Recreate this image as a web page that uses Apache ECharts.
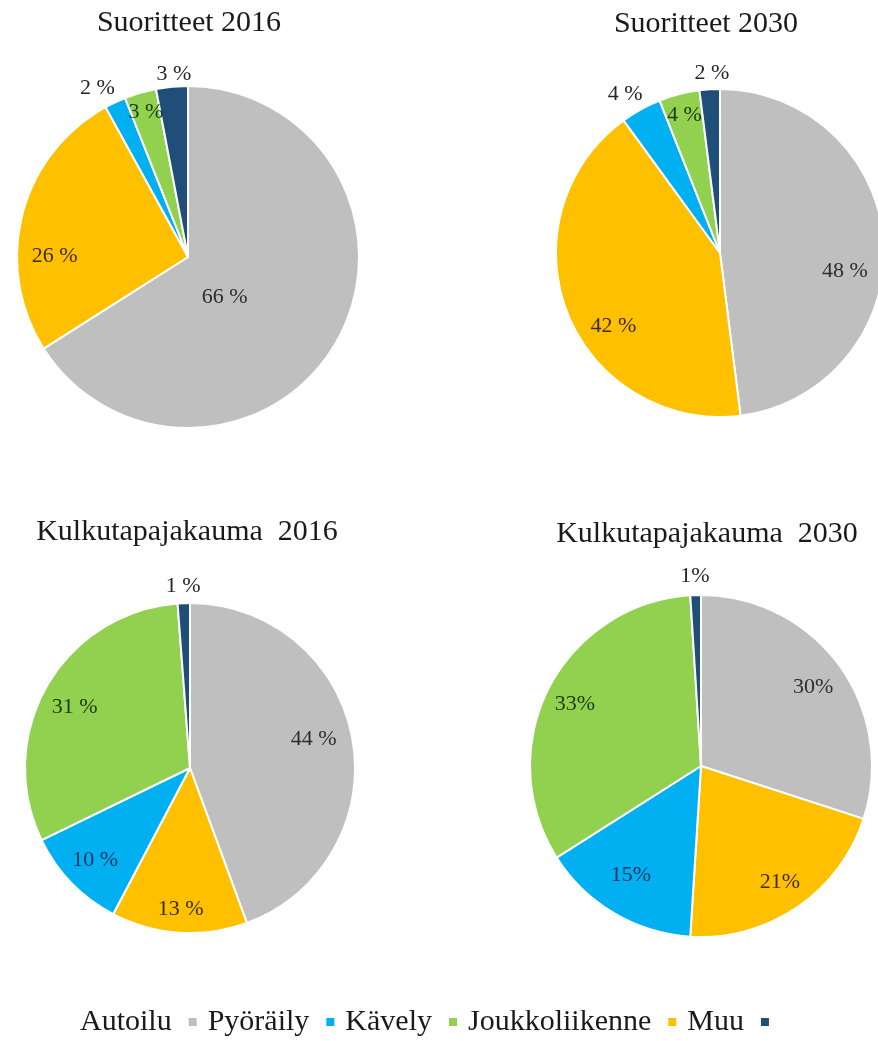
<!DOCTYPE html>
<html>
<head>
<meta charset="utf-8">
<style>
  html, body { margin: 0; padding: 0; background: #fff; }
  #main { width: 878px; height: 1041px; }
</style>
<script src="https://cdn.jsdelivr.net/npm/echarts@6/dist/echarts.min.js"></script>
</head>
<body>
<div id="main"></div>
<script>
// legend order and the clockwise slice order (from 12 o'clock)
const legendNames = ['Autoilu', 'Pyöräily', 'Kävely', 'Joukkoliikenne', 'Muu']
const sliceNames = ['Autoilu', 'Joukkoliikenne', 'Pyöräily', 'Kävely', 'Muu']
const chartTitles = ['Suoritteet 2016', 'Suoritteet 2030', 'Kulkutapajakauma  2016', 'Kulkutapajakauma  2030']

// shares in %, in sliceNames order
const suoritteet2016 = [66, 26, 2, 3, 3]
const suoritteet2030 = [48, 42, 4, 4, 2]
const kulkutapa2016 = [44.4, 13.3, 10.1, 31.0, 1.2]
const kulkutapa2030 = [30, 21, 15, 33, 1]

const FONT = "'Liberation Serif', 'Times New Roman', serif"

const sliceColors = {
    'Autoilu': '#bfbfbf',
    'Joukkoliikenne': '#ffc000',
    'Pyöräily': '#00b0f0',
    'Kävely': '#92d050',
    'Muu': '#1f4e79',
}
const labelColors = {
    'Autoilu': '#2e2e2e',
    'Joukkoliikenne': '#3d2c00',
    'Pyöräily': '#0b3763',
    'Kävely': '#1d3b0b',
    'Muu': '#262626',
}

// layout of each pie: centre, radius, title spot, label tweaks (angle nudge in deg, distance as share of radius)
const pies = [
    { values: suoritteet2016, center: [188, 257], radius: 171, titlePos: [189, 8], suffix: ' %',
      nudge: [19, -14, -3, 0, 1], dist: [0.32, 0.78, 1.12, 0.88, 1.07] },
    { values: suoritteet2030, center: [720, 253], radius: 164, titlePos: [706, 9], suffix: ' %',
      nudge: [12, -13, -2, 0, 1], dist: [0.77, 0.79, 1.13, 0.87, 1.1] },
    { values: kulkutapa2016, center: [190, 768], radius: 165, titlePos: [187, 517], suffix: ' %',
      nudge: [-3, 0, 0, -2, 0], dist: [0.77, 0.86, 0.8, 0.79, 1.1] },
    { values: kulkutapa2030, center: [701, 766], radius: 171, titlePos: [707, 519], suffix: '%',
      nudge: [1, 0, 2, -1, 0], dist: [0.8, 0.82, 0.76, 0.82, 1.11] },
]

function placeLabel(params) {
    const p = pies[params.seriesIndex]
    const vals = p.values
    const total = vals.reduce((a, b) => a + b, 0)
    let cum = 0
    for (let i = 0; i < params.dataIndex; i++) cum += vals[i]
    const mid = (cum + vals[params.dataIndex] / 2) / total * 360 + p.nudge[params.dataIndex]
    const rad = mid * Math.PI / 180
    const d = p.radius * p.dist[params.dataIndex]
    return {
        x: p.center[0] + d * Math.sin(rad),
        y: p.center[1] - d * Math.cos(rad),
        align: 'center',
        verticalAlign: 'middle',
    }
}

const myChart = echarts.init(document.getElementById('main'))

const option = {
    animation: false,
    backgroundColor: '#fff',
    title: pies.map((p, i) => ({
        text: chartTitles[i],
        left: p.titlePos[0],
        top: p.titlePos[1],
        textAlign: 'center',
        padding: 0,
        textStyle: {
            fontFamily: FONT,
            fontSize: 30,
            fontWeight: 'normal',
            color: '#1a1a1a',
        },
    })),
    legend: {
        data: legendNames,
        left: 80,
        top: 1007,
        padding: 0,
        align: 'right',
        icon: 'rect',
        itemWidth: 8,
        itemHeight: 8,
        itemGap: 11,
        selectedMode: false,
        itemStyle: { borderWidth: 0 },
        textStyle: {
            fontFamily: FONT,
            fontSize: 30,
            color: '#1a1a1a',
            padding: [0, 12, 0, 0],
        },
    },
    series: pies.map(p => ({
        type: 'pie',
        center: p.center,
        radius: p.radius,
        startAngle: 90,
        clockwise: true,
        silent: true,
        avoidLabelOverlap: false,
        emphasis: { disabled: true },
        itemStyle: {
            borderColor: '#fff',
            borderWidth: 2,
        },
        label: {
            show: true,
            position: 'inside',
            fontFamily: FONT,
            fontSize: 22,
            formatter: params => Math.round(params.value) + p.suffix,
        },
        labelLine: { show: false },
        labelLayout: placeLabel,
        data: p.values.map((v, i) => ({
            name: sliceNames[i],
            value: v,
            itemStyle: { color: sliceColors[sliceNames[i]] },
            label: { color: p.dist[i] > 1 ? '#262626' : labelColors[sliceNames[i]] },
        })),
    })),
}

myChart.setOption(option)
</script>
</body>
</html>
